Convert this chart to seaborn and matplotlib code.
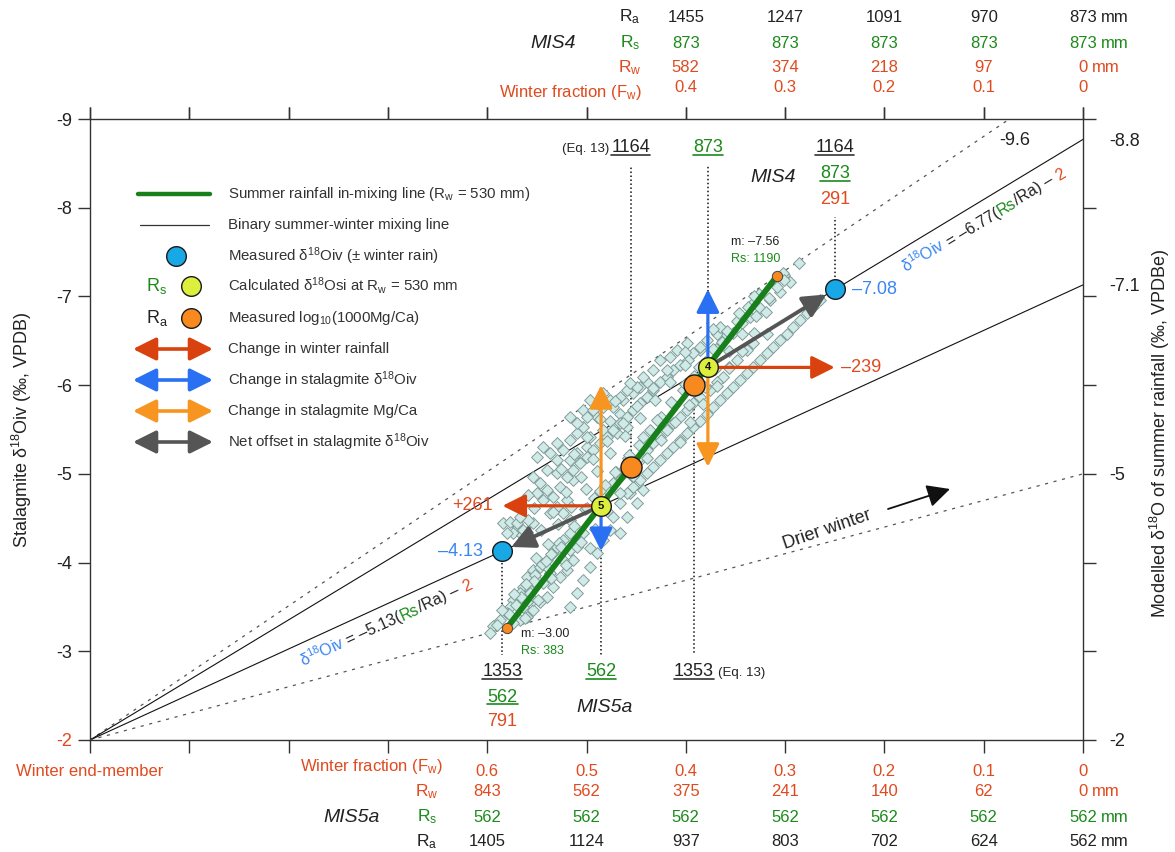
import numpy as np
import pandas as pd
import matplotlib
matplotlib.use("Agg")
import matplotlib.pyplot as plt
import matplotlib.transforms as mtransforms
from matplotlib.patches import FancyArrowPatch, ArrowStyle
from matplotlib.lines import Line2D
import seaborn as sns

sns.set_theme(style="white")
plt.rcParams["font.family"] = ["Liberation Sans", "DejaVu Sans"]
plt.rcParams["mathtext.fontset"] = "custom"
plt.rcParams["mathtext.rm"] = "Liberation Sans"
plt.rcParams["mathtext.it"] = "Liberation Sans:italic"
plt.rcParams["mathtext.bf"] = "Liberation Sans:bold"

# ---------------- data ----------------
fw_ticks = [1.0, 0.9, 0.8, 0.7, 0.6, 0.5, 0.4, 0.3, 0.2, 0.1, 0.0]
fw_bottom_labels = ["Winter end-member", "", "", "", "0.6", "0.5", "0.4", "0.3", "0.2", "0.1", "0"]
fw_top_labels = ["", "", "", "", "", "", "0.4", "0.3", "0.2", "0.1", "0"]
d18o_ticks = [-9, -8, -7, -6, -5, -4, -3, -2]

# MIS5a rainfall table (bottom)
mis5a_fw = [0.6, 0.5, 0.4, 0.3, 0.2, 0.1, 0.0]
mis5a_rw = [843, 562, 375, 241, 140, 62, 0]
mis5a_rs = [562, 562, 562, 562, 562, 562, 562]
mis5a_ra = [1405, 1124, 937, 803, 702, 624, 562]

# MIS4 rainfall table (top)
mis4_fw = [0.4, 0.3, 0.2, 0.1, 0.0]
mis4_ra = [1455, 1247, 1091, 970, 873]
mis4_rs = [873, 873, 873, 873, 873]
mis4_rw = [582, 374, 218, 97, 0]

# binary summer-winter mixing lines (winter end-member = -2 permil)
winter_end = -2.0
mix_end = [-9.56, -8.77, -7.13, -5.00]
mix_end_label = ["-9.6", "-8.8", "-7.1", "-5"]
mix_dotted = [True, False, False, True]

# summer rainfall in-mixing line at Rw = 530 mm
rw_fixed = 530
inmix_rs = [383, 1190]
inmix_m = [-3.00, -7.56]

# stage results: MIS4, MIS5a
stage_num = ["4", "5"]
stage_rs = [873, 562]
stage_ra = [1164, 1353]
stage_rw = [291, 791]
stage_d18o_meas = [-7.08, -4.13]
stage_d18o_calc = [-6.20, -4.64]
stage_d18o_mgca = [-5.08, -6.00]

# stalagmite record: winter fraction (from Mg/Ca) and d18O
rec_fw = [
    0.584, 0.577, 0.569, 0.560, 0.574, 0.565, 0.554, 0.559, 0.524, 0.517, 0.514, 0.520,
    0.527, 0.534, 0.540, 0.547, 0.554, 0.560, 0.567, 0.574, 0.554, 0.560, 0.564, 0.567,
    0.574, 0.577, 0.580, 0.587, 0.594, 0.597, 0.540, 0.547, 0.534, 0.550, 0.557, 0.544,
    0.537, 0.554, 0.560, 0.580, 0.570, 0.564, 0.567, 0.554, 0.547, 0.540, 0.534, 0.550,
    0.544, 0.530, 0.524, 0.537, 0.517, 0.520, 0.527, 0.514, 0.540, 0.530, 0.550, 0.544,
    0.537, 0.530, 0.524, 0.517, 0.510, 0.504, 0.517, 0.510, 0.500, 0.530, 0.517, 0.504,
    0.496, 0.483, 0.473, 0.463, 0.453, 0.446, 0.439, 0.489, 0.476, 0.466, 0.459, 0.469,
    0.483, 0.496, 0.463, 0.453, 0.446, 0.439, 0.456, 0.466, 0.473, 0.476, 0.483, 0.489,
    0.496, 0.504, 0.510, 0.517, 0.466, 0.459, 0.449, 0.443, 0.530, 0.524, 0.540, 0.557,
    0.564, 0.517, 0.510, 0.504, 0.286, 0.295, 0.301, 0.305, 0.315, 0.325, 0.332, 0.335,
    0.343, 0.352, 0.359, 0.364, 0.369, 0.379, 0.386, 0.393, 0.398, 0.406, 0.413, 0.419,
    0.426, 0.433, 0.439, 0.446, 0.453, 0.459, 0.466, 0.473, 0.479, 0.486, 0.493, 0.500,
    0.507, 0.514, 0.520, 0.366, 0.409, 0.426, 0.443, 0.459, 0.476, 0.493, 0.510, 0.399,
    0.416, 0.433, 0.449, 0.466, 0.483, 0.500, 0.265, 0.272, 0.278, 0.285, 0.292, 0.298,
    0.305, 0.312, 0.318, 0.325, 0.332, 0.338, 0.345, 0.352, 0.359, 0.366, 0.373, 0.379,
    0.386, 0.393, 0.399, 0.406, 0.413, 0.419, 0.426, 0.433, 0.439, 0.446, 0.453, 0.459,
    0.318, 0.332, 0.338, 0.348, 0.356, 0.363, 0.369, 0.376, 0.386, 0.393, 0.399, 0.406,
    0.413, 0.419, 0.426, 0.433, 0.439, 0.446, 0.453, 0.459, 0.466, 0.473, 0.479, 0.302,
    0.308, 0.590, 0.571, 0.552, 0.545, 0.536, 0.528, 0.502, 0.492, 0.481, 0.470, 0.458,
    0.447, 0.436, 0.425, 0.414, 0.403, 0.392, 0.381, 0.370, 0.359, 0.348, 0.337, 0.326,
    0.578, 0.562, 0.585, 0.566, 0.549, 0.573, 0.553, 0.536, 0.561, 0.541, 0.521, 0.551,
    0.526, 0.506, 0.539, 0.496, 0.513, 0.491, 0.529, 0.546, 0.499, 0.479, 0.516, 0.534, 0.553,
    0.486, 0.466, 0.501, 0.521, 0.559, 0.471, 0.453, 0.489, 0.506, 0.526,
    0.457, 0.439, 0.476, 0.493, 0.513, 0.443, 0.425, 0.461, 0.479, 0.499, 0.406,
    0.429, 0.411, 0.446, 0.463, 0.486, 0.396, 0.415, 0.397, 0.431, 0.449, 0.471, 0.383,
    0.401, 0.381, 0.416, 0.433, 0.456, 0.369, 0.387, 0.371, 0.401, 0.419, 0.356,
    0.373, 0.356, 0.386, 0.401, 0.343, 0.359, 0.343, 0.373, 0.331, 0.346, 0.329, 0.319,
    0.331, 0.316, 0.301,
]
rec_d18o = [
    -4.45, -4.46, -4.40, -4.35, -4.33, -4.31, -4.45, -4.48, -4.26, -4.14, -4.03, -3.92,
    -3.84, -3.72, -3.61, -3.55, -3.47, -3.39, -3.35, -3.32, -3.92, -3.84, -3.72, -3.66,
    -3.58, -3.50, -3.43, -3.35, -3.28, -3.21, -4.03, -3.95, -4.11, -3.80, -3.69, -3.77,
    -3.88, -3.58, -3.55, -4.33, -4.45, -4.37, -4.51, -4.96, -4.90, -4.82, -4.74, -4.78,
    -4.71, -4.63, -4.56, -4.56, -4.48, -4.71, -4.85, -4.93, -5.04, -5.01, -5.19, -5.30,
    -5.24, -5.35, -5.27, -5.38, -5.46, -5.53, -5.16, -5.24, -5.30, -5.16, -5.64, -5.72,
    -5.83, -5.91, -5.75, -5.83, -5.91, -5.98, -6.03, -5.64, -5.60, -5.68, -5.53, -5.46,
    -5.50, -5.42, -5.04, -4.96, -5.16, -5.30, -4.78, -4.67, -4.51, -4.37, -4.26, -4.11,
    -3.95, -3.80, -3.66, -3.50, -4.33, -4.51, -4.67, -4.82, -4.18, -4.03, -3.95, -3.66,
    -3.50, -4.33, -4.18, -4.33, -7.38, -7.16, -7.24, -7.05, -6.96, -6.87, -6.93, -6.77,
    -6.70, -6.59, -6.54, -6.49, -6.58, -6.51, -6.40, -6.36, -6.28, -6.23, -6.17, -6.09,
    -6.03, -5.95, -5.87, -5.80, -5.72, -5.64, -5.57, -5.50, -5.42, -5.35, -5.27, -5.19,
    -5.12, -5.04, -4.96, -6.65, -6.40, -6.28, -6.09, -5.95, -5.83, -5.72, -5.57, -6.47,
    -6.32, -6.17, -5.98, -5.87, -5.75, -5.64, -6.96, -6.88, -6.81, -6.73, -6.65, -6.58,
    -6.51, -6.43, -6.36, -6.28, -6.21, -6.14, -6.06, -5.98, -5.91, -5.83, -5.75, -5.68,
    -5.60, -5.53, -5.46, -5.38, -5.30, -5.24, -5.16, -5.08, -5.01, -4.93, -4.85, -4.78,
    -6.58, -6.47, -6.40, -6.28, -6.21, -6.09, -6.03, -5.95, -5.87, -5.80, -5.72, -5.64,
    -5.57, -5.50, -5.42, -5.35, -5.27, -5.19, -5.12, -5.04, -4.96, -4.90, -4.82, -7.26,
    -7.11, -3.30, -3.52, -3.86, -3.98, -4.10, -4.22, -4.60, -4.73, -4.88, -5.02, -5.18,
    -5.33, -5.49, -5.64, -5.80, -5.95, -6.10, -6.26, -6.41, -6.57, -6.72, -6.88, -7.03,
    -3.42, -3.38, -3.47, -3.61, -3.58, -3.65, -3.79, -3.83, -3.76, -4.02, -3.97, -4.05,
    -4.18, -4.23, -4.21, -4.16, -4.41, -4.38, -4.43, -4.37, -4.61, -4.58, -4.63, -4.57, -4.62,
    -4.81, -4.78, -4.83, -4.79, -4.76, -5.02, -4.98, -5.03, -4.97, -5.05,
    -5.21, -5.18, -5.23, -5.17, -5.22, -5.41, -5.38, -5.43, -5.37, -5.42, -5.36,
    -5.61, -5.58, -5.63, -5.57, -5.62, -5.59, -5.81, -5.78, -5.83, -5.77, -5.82, -5.79,
    -6.01, -5.98, -6.03, -5.97, -6.02, -5.99, -6.21, -6.18, -6.23, -6.17, -6.19,
    -6.41, -6.38, -6.43, -6.37, -6.39, -6.61, -6.58, -6.63, -6.59, -6.81, -6.78, -6.83,
    -7.01, -6.98, -7.19,
]

# ---------------- colours ----------------
RED = "#e04a1e"
GREEN = "#1b8a1b"
LINEGREEN = "#17801a"
BLUE_TXT = "#3a86f0"
BLUE_PT = "#19a8e6"
ORANGE = "#f7891f"
ORANGE_ARR = "#f79520"
BLUE_ARR = "#2a70f2"
RED_ARR = "#d9420e"
GRAY_ARR = "#555555"
YELLOW = "#dcef3c"
TXT = "#222222"

W, H = 1175, 852
fig = plt.figure(figsize=(W / 100, H / 100), dpi=100)
ax = fig.add_axes([90 / W, 1 - 740 / H, (1083 - 90) / W, (740 - 119) / H])
ax.set_xlim(1.0, 0.0)
ax.set_ylim(-2.0, -9.0)
for s in ax.spines.values():
    s.set_color("#333333")
    s.set_linewidth(1.0)

# overlay in pixel coordinates for table / legend text
ov = fig.add_axes([0, 0, 1, 1], zorder=5)
ov.set_xlim(0, W)
ov.set_ylim(H, 0)
ov.axis("off")
ov.patch.set_alpha(0)
bx = mtransforms.blended_transform_factory(ax.transData, ov.transData)


def shifted(trans, dx=0, dy=0):
    return mtransforms.offset_copy(trans, fig=fig, x=dx, y=dy, units="dots")


# ---- mixing lines ----
for end, dotted in zip(mix_end, mix_dotted):
    df = pd.DataFrame({"fw": [1.0, 0.0], "d": [winter_end, end]})
    sns.lineplot(data=df, x="fw", y="d", ax=ax, color="#555555" if dotted else "#111111",
                 lw=0.9 if dotted else 0.8, linestyle=(0, (2.5, 4.5)) if dotted else "-",
                 zorder=1, estimator=None, sort=False)

# ---- stalagmite record ----
sns.scatterplot(x=rec_fw, y=rec_d18o, ax=ax, marker="D", s=36, color="#d0ebe7",
                edgecolor="#7f9b98", linewidth=0.7, zorder=2)

# ---- in-mixing line ----
inmix_fw = [rw_fixed / (rw_fixed + r) for r in inmix_rs]
inmix_d = [winter_end + m * r / (rw_fixed + r) for m, r in zip(inmix_m, inmix_rs)]
sns.lineplot(x=inmix_fw, y=inmix_d, ax=ax, color=LINEGREEN, lw=4.2, zorder=4,
             estimator=None, sort=False)
sns.scatterplot(x=inmix_fw, y=inmix_d, ax=ax, s=55, color=ORANGE, edgecolor="#444444",
                linewidth=0.7, zorder=5)

calc_fw = [rw_fixed / (rw_fixed + r) for r in stage_rs]
meas_fw = [rw / ra for rw, ra in zip(stage_rw, stage_ra)]
mgca_fw = [rw_fixed / ra for ra in stage_ra]

# ---- vertical guides ----
guide_kw = dict(color="#111111", lw=1.1, linestyle=(0, (1, 1.6)), zorder=1.5)
ax.plot([mgca_fw[0], mgca_fw[0]], [stage_d18o_mgca[0], -8.47], **guide_kw)
ax.plot([calc_fw[0], calc_fw[0]], [stage_d18o_calc[0], -8.47], **guide_kw)
ax.plot([meas_fw[0], meas_fw[0]], [stage_d18o_meas[0], -7.90], **guide_kw)
ax.plot([meas_fw[1], meas_fw[1]], [stage_d18o_meas[1], -2.96], **guide_kw)
ax.plot([calc_fw[1], calc_fw[1]], [stage_d18o_calc[1], -2.96], **guide_kw)
ax.plot([mgca_fw[1], mgca_fw[1]], [stage_d18o_mgca[1], -2.96], **guide_kw)


def arrow(p0, p1, color, lw=2.3, shrinkB=0.0, z=6, both=False, trans=None):
    style = ArrowStyle("<|-|>" if both else "-|>", head_length=1.0, head_width=0.5)
    a = FancyArrowPatch(p0, p1, arrowstyle=style, mutation_scale=14, color=color, lw=lw,
                        shrinkA=0, shrinkB=shrinkB, zorder=z,
                        transform=trans if trans is not None else ax.transData)
    (ov if trans is not None else ax).add_patch(a)
    return a


for i in range(2):
    c = (calc_fw[i], stage_d18o_calc[i])
    arrow(c, (meas_fw[i], stage_d18o_calc[i]), RED_ARR)
    arrow(c, (calc_fw[i], stage_d18o_meas[i]), BLUE_ARR)
    arrow(c, (calc_fw[i], stage_d18o_mgca[i]), ORANGE_ARR)
    arrow(c, (meas_fw[i], stage_d18o_meas[i]), GRAY_ARR, lw=2.8, shrinkB=7)

# ---- stage markers ----
sns.scatterplot(x=meas_fw, y=stage_d18o_meas, ax=ax, s=200, color=BLUE_PT,
                edgecolor="#1a1a1a", linewidth=1.0, zorder=7)
sns.scatterplot(x=mgca_fw, y=stage_d18o_mgca, ax=ax, s=230, color=ORANGE,
                edgecolor="#1a1a1a", linewidth=1.0, zorder=7)
sns.scatterplot(x=calc_fw, y=stage_d18o_calc, ax=ax, s=200, color=YELLOW,
                edgecolor="#1a1a1a", linewidth=1.0, zorder=8)
for i in range(2):
    ax.text(calc_fw[i], stage_d18o_calc[i], stage_num[i], ha="center", va="center",
            fontsize=8, fontweight="bold", color="#111111", zorder=9)

# ---- axes ticks ----
ax.set_xticks(fw_ticks)
ax.set_xticklabels(fw_bottom_labels, color=RED, fontsize=12)
ax.tick_params(axis="x", bottom=True, top=True, direction="out", length=9, width=1,
               color="#333333", pad=8)
ax.set_yticks(d18o_ticks)
ax.set_yticklabels([str(t) for t in d18o_ticks], fontsize=13, color=TXT)
ax.get_yticklabels()[-1].set_color(RED)
ax.tick_params(axis="y", left=True, direction="out", length=9, width=1, color="#333333", pad=4)
ax.set_xlabel("")
ax.set_ylabel("")

sec = ax.secondary_xaxis("top")
sec.set_xticks(fw_ticks)
sec.set_xticklabels(fw_top_labels, color=RED, fontsize=12)
sec.tick_params(direction="out", length=9, width=1, color="#333333", pad=8)
sec.spines["top"].set_visible(False)

axr = ax.twinx()
axr.set_ylim(ax.get_ylim())
axr.yaxis.remove_overlapping_locs = False
axr.set_yticks(mix_end[1:] + [winter_end])
axr.set_yticklabels(mix_end_label[1:] + ["-2"], fontsize=13, color=TXT)
axr.set_yticks(d18o_ticks, minor=True)
axr.tick_params(axis="y", which="major", right=True, length=0, pad=19)
axr.tick_params(axis="y", which="minor", right=True, length=9, width=1, color="#333333",
                direction="out")
for s in axr.spines.values():
    s.set_visible(False)
axr.grid(False)
ax.grid(False)

ax.text(0.084, -8.76, mix_end_label[0], fontsize=13, color=TXT, ha="left", va="center")

# ---- axis titles ----
ov.text(22, 430, "Stalagmite δ$^{18}$Oiv (‰, VPDB)", rotation=90, ha="center",
        va="center", fontsize=13, color=TXT)
ov.text(1160, 433, "Modelled δ$^{18}$O of summer rainfall (‰, VPDBe)", rotation=90,
        ha="center", va="center", fontsize=13, color=TXT)

# ---- rainfall tables ----
tab_fs = 12
rowlab_kw = dict(ha="center", va="center", fontsize=12.5)
# bottom (MIS5a)
ov.text(443, 767, r"Winter fraction (F$_\mathrm{w}$)", ha="right", va="center",
        fontsize=tab_fs, color=RED)
ov.text(427, 792, r"R$_\mathrm{w}$", color=RED, **rowlab_kw)
ov.text(427, 817, r"R$_\mathrm{s}$", color=GREEN, **rowlab_kw)
ov.text(427, 842, r"R$_\mathrm{a}$", color=TXT, **rowlab_kw)
ov.text(352, 817, "MIS5a", ha="center", va="center", fontsize=14, style="italic", color=TXT)
tail_texts = []
for j, fw in enumerate(mis5a_fw):
    for val, yy, col in ((mis5a_rw[j], 792, RED), (mis5a_rs[j], 817, GREEN),
                         (mis5a_ra[j], 842, TXT)):
        t = ov.text(fw, yy, str(val), transform=bx, color=col, ha="center", va="center",
                    fontsize=tab_fs)
        if j == len(mis5a_fw) - 1:
            tail_texts.append((t, col))
# top (MIS4)
ov.text(642, 93, r"Winter fraction (F$_\mathrm{w}$)", ha="right", va="center",
        fontsize=tab_fs, color=RED)
ov.text(630, 68, r"R$_\mathrm{w}$", color=RED, **rowlab_kw)
ov.text(630, 43, r"R$_\mathrm{s}$", color=GREEN, **rowlab_kw)
ov.text(630, 17, r"R$_\mathrm{a}$", color=TXT, **rowlab_kw)
ov.text(553, 43, "MIS4", ha="center", va="center", fontsize=14, style="italic", color=TXT)
for j, fw in enumerate(mis4_fw):
    for val, yy, col in ((mis4_ra[j], 17, TXT), (mis4_rs[j], 43, GREEN),
                         (mis4_rw[j], 68, RED)):
        t = ov.text(fw, yy, str(val), transform=bx, color=col, ha="center", va="center",
                    fontsize=tab_fs)
        if j == len(mis4_fw) - 1:
            tail_texts.append((t, col))

# ---- labels in the plot ----
lab_fs = 13
underlined = []
t = ov.text(mgca_fw[0], 148, str(stage_ra[0]), transform=bx, ha="center", va="center",
            fontsize=lab_fs, color=TXT)
underlined.append((t, "#333333"))
ov.text(mgca_fw[0], 149, "(Eq. 13)", transform=shifted(bx, dx=-22), ha="right",
        va="center", fontsize=9.5, color=TXT)
t = ov.text(calc_fw[0], 148, str(stage_rs[0]), transform=bx, ha="center", va="center",
            fontsize=lab_fs, color=GREEN)
underlined.append((t, GREEN))
t = ov.text(meas_fw[0], 148, str(stage_ra[0]), transform=bx, ha="center", va="center",
            fontsize=lab_fs, color=TXT)
underlined.append((t, "#333333"))
t = ov.text(meas_fw[0], 174, str(stage_rs[0]), transform=bx, ha="center", va="center",
            fontsize=lab_fs, color=GREEN)
underlined.append((t, GREEN))
ov.text(meas_fw[0], 199, str(stage_rw[0]), transform=bx, ha="center", va="center",
        fontsize=lab_fs, color=RED)
ov.text(773, 177, "MIS4", ha="center", va="center", fontsize=14, style="italic", color=TXT)

t = ov.text(meas_fw[1], 672, str(stage_ra[1]), transform=bx, ha="center", va="center",
            fontsize=lab_fs, color=TXT)
underlined.append((t, "#333333"))
t = ov.text(meas_fw[1], 697, str(stage_rs[1]), transform=bx, ha="center", va="center",
            fontsize=lab_fs, color=GREEN)
underlined.append((t, GREEN))
ov.text(meas_fw[1], 722, str(stage_rw[1]), transform=bx, ha="center", va="center",
        fontsize=lab_fs, color=RED)
t = ov.text(calc_fw[1], 672, str(stage_rs[1]), transform=bx, ha="center", va="center",
            fontsize=lab_fs, color=GREEN)
underlined.append((t, GREEN))
t = ov.text(mgca_fw[1], 672, str(stage_ra[1]), transform=bx, ha="center", va="center",
            fontsize=lab_fs, color=TXT)
underlined.append((t, "#333333"))
ov.text(mgca_fw[1], 673, "(Eq. 13)", transform=shifted(bx, dx=24), ha="left",
        va="center", fontsize=9.5, color=TXT)
ov.text(605, 708, "MIS5a", ha="center", va="center", fontsize=14, style="italic", color=TXT)

# end-point annotations of the in-mixing line
ov.text(731, 242, "m: \u20137.56", ha="left", va="center", fontsize=9, color=TXT)
ov.text(731, 259, "Rs: 1190", ha="left", va="center", fontsize=9, color=GREEN)
ov.text(521, 634, "m: \u20133.00", ha="left", va="center", fontsize=9, color=TXT)
ov.text(521, 651, "Rs: 383", ha="left", va="center", fontsize=9, color=GREEN)

# value labels
ax.text(meas_fw[0], stage_d18o_meas[0], "\u20137.08", transform=shifted(ax.transData, dx=17),
        ha="left", va="center", fontsize=13, color=BLUE_TXT)
ax.text(meas_fw[1], stage_d18o_meas[1], "\u20134.13", transform=shifted(ax.transData, dx=-19),
        ha="right", va="center", fontsize=13, color=BLUE_TXT)
ax.text(meas_fw[0], stage_d18o_calc[0], "\u2013239", transform=shifted(ax.transData, dx=6),
        ha="left", va="center", fontsize=13, color=RED)
ax.text(meas_fw[1], stage_d18o_calc[1], "+261", transform=shifted(ax.transData, dx=-10),
        ha="right", va="center", fontsize=13, color=RED)

# drier winter note
ov.text(827, 530, "Drier winter", rotation=19, ha="center", va="center", fontsize=13,
        color=TXT)
arrow((888, 509), (950, 489), "#111111", lw=1.3, trans=ov.transData)

# ---- legend ----
leg_y = [194, 225, 256, 286, 318, 349, 380, 411, 442]
leg_txt = ["Summer rainfall in-mixing line (R$_\\mathrm{w}$ = 530 mm)",
           "Binary summer-winter mixing line",
           r"Measured δ$^{18}$Oiv ($\pm$ winter rain)",
           r"Calculated δ$^{18}$Osi at R$_\mathrm{w}$ = 530 mm",
           r"Measured log$_{10}$(1000Mg/Ca)",
           "Change in winter rainfall",
           r"Change in stalagmite δ$^{18}$Oiv",
           "Change in stalagmite Mg/Ca",
           r"Net offset in stalagmite δ$^{18}$Oiv"]
for yy, s in zip(leg_y, leg_txt):
    ov.text(228, yy, s, ha="left", va="center", fontsize=10.8, color="#333333")
ov.plot([138, 210], [leg_y[0]] * 2, color=LINEGREEN, lw=3.2)
ov.plot([140, 209], [leg_y[1]] * 2, color="#333333", lw=0.9)
ov.scatter([176], [leg_y[2]], s=200, color=BLUE_PT, edgecolor="#1a1a1a", linewidth=1.0)
ov.scatter([191], [leg_y[3]], s=200, color=YELLOW, edgecolor="#1a1a1a", linewidth=1.0)
ov.scatter([191], [leg_y[4]], s=200, color=ORANGE, edgecolor="#1a1a1a", linewidth=1.0)
ov.text(157, leg_y[3], r"R$_\mathrm{s}$", ha="center", va="center", fontsize=13, color=GREEN)
ov.text(157, leg_y[4], r"R$_\mathrm{a}$", ha="center", va="center", fontsize=13, color=TXT)
for yy, col in zip(leg_y[5:], [RED_ARR, BLUE_ARR, ORANGE_ARR, GRAY_ARR]):
    arrow((133, yy), (213, yy), col, lw=2.6, both=True, trans=ov.transData)

# ---- post-layout text (underlines, rotated formulas) ----
fig.canvas.draw()
renderer = fig.canvas.get_renderer()
ident = mtransforms.IdentityTransform()

for t, col in underlined:
    bb = t.get_window_extent(renderer)
    fig.add_artist(Line2D([bb.x0, bb.x1], [bb.y0 + 1.5, bb.y0 + 1.5], transform=ident,
                          color=col, lw=1.2))
for t, col in tail_texts:
    bb = t.get_window_extent(renderer)
    fig.text(bb.x1 + 4, (bb.y0 + bb.y1) / 2, "mm", transform=ident, ha="left", va="center",
             fontsize=tab_fs, color=col)


def text_width(s, fs):
    a = fig.text(0, 0, "|" + s + "|", fontsize=fs)
    b = fig.text(0, 0, "||", fontsize=fs)
    w = a.get_window_extent(renderer).width - b.get_window_extent(renderer).width
    a.remove()
    b.remove()
    return w


def formula_along(end, start_fw, offset, coef, fs=11.5):
    p0 = ax.transData.transform((1.0, winter_end))
    p1 = ax.transData.transform((0.0, end))
    ang = np.degrees(np.arctan2(p1[1] - p0[1], p1[0] - p0[0]))
    th = np.radians(ang)
    sx, sy = ax.transData.transform((start_fw, winter_end + (end - winter_end) * (1 - start_fw)))
    sx += offset * np.sin(th)
    sy -= offset * np.cos(th)
    pieces = [("δ$^{18}$Oiv", BLUE_TXT), (" = \u2013" + coef + "(", TXT), ("Rs", GREEN),
              ("/Ra) \u2013 ", TXT), ("2", RED)]
    pos = 0.0
    for s, col in pieces:
        fig.text(sx + pos * np.cos(th), sy + pos * np.sin(th), s, transform=ident, color=col,
                 fontsize=fs, rotation=ang, rotation_mode="anchor", ha="left", va="baseline")
        pos += text_width(s, fs)


formula_along(mix_end[1], 0.19, 23, "6.77")
formula_along(mix_end[2], 0.795, 22, "5.13")

fig.savefig("out.png", dpi=100)
